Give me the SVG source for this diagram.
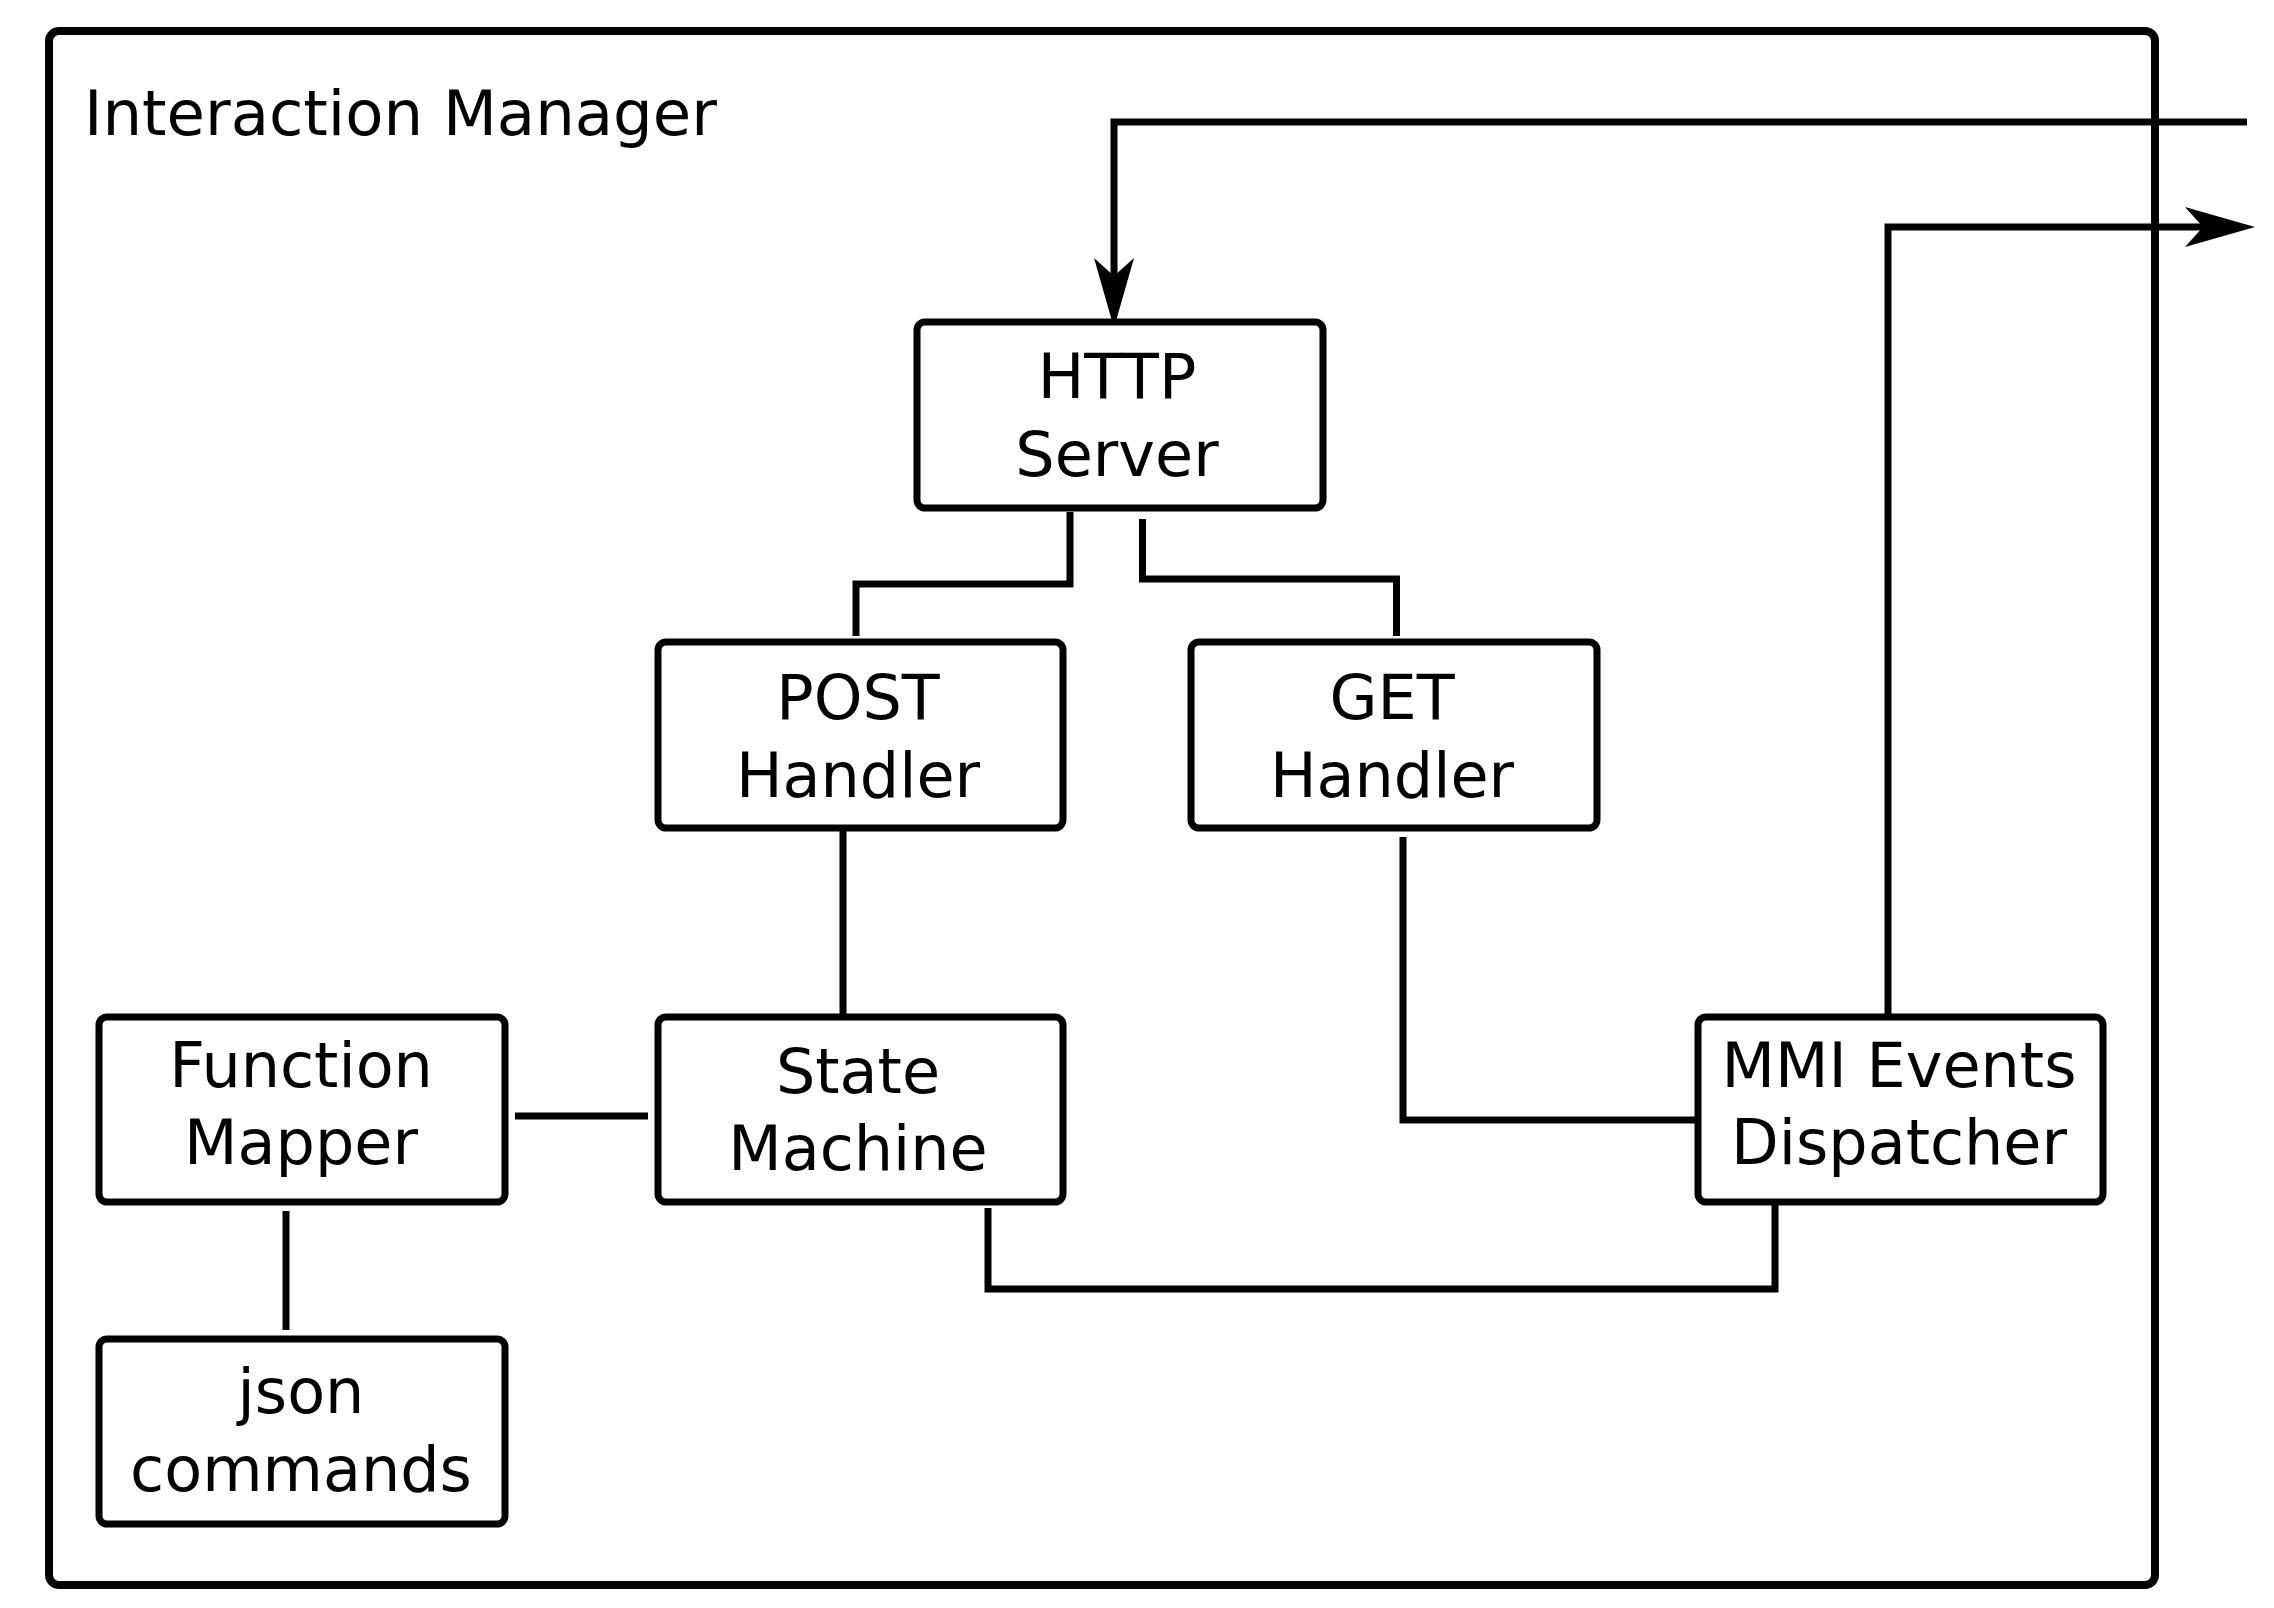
<svg xmlns="http://www.w3.org/2000/svg" width="2274" height="1608" viewBox="0 0 2274 1608">
<style>
.box{fill:#fff;stroke:#000;stroke-width:7}
.frame{fill:none;stroke:#000;stroke-width:8}
.lbl{font-family:"DejaVu Sans",sans-serif;font-size:62px;fill:#000;text-anchor:middle}
.title{font-family:"DejaVu Sans",sans-serif;font-size:62.5px;fill:#000}
.con{fill:none;stroke:#000;stroke-width:7}
</style>
<defs>
<marker id="arr" viewBox="0 0 70 40" refX="18" refY="20" markerWidth="70" markerHeight="40" markerUnits="userSpaceOnUse" orient="auto">
<path d="M0,0 L70,20 L0,40 L18,20 Z" fill="#000"/>
</marker>
</defs>
<rect width="2274" height="1608" fill="#fff"/>
<g id="interaction-manager">
<rect class="frame" x="49" y="31" width="2106" height="1554" rx="10"/>
<text class="title" x="84" y="135">Interaction Manager</text>
</g>
<g id="connectors">
<path class="con" d="M2247,122 H1114 V276" marker-end="url(#arr)"/>
<path class="con" d="M1888,1017 V227 H2203" marker-end="url(#arr)"/>
<path class="con" d="M1070,512 V584 H856 V636"/>
<path class="con" d="M1142.5,519 V579 H1396.5 V636"/>
<path class="con" d="M843,828 V1017"/>
<path class="con" d="M1403,837 V1120 H1696"/>
<path class="con" d="M988,1208 V1289 H1775 V1203"/>
<path class="con" d="M515,1116 H648"/>
<path class="con" d="M286,1211 V1330"/>
</g>
<g id="http-server">
<rect class="box" x="917" y="322" width="406" height="186" rx="8"/>
<text class="lbl" x="1117" y="398">HTTP</text>
<text class="lbl" x="1117" y="476">Server</text>
</g>
<g id="post-handler">
<rect class="box" x="658" y="642" width="405" height="186" rx="8"/>
<text class="lbl" x="858" y="719">POST</text>
<text class="lbl" x="858" y="797">Handler</text>
</g>
<g id="get-handler">
<rect class="box" x="1191" y="642" width="406" height="186" rx="8"/>
<text class="lbl" x="1392" y="719">GET</text>
<text class="lbl" x="1392" y="797">Handler</text>
</g>
<g id="state-machine">
<rect class="box" x="658" y="1017" width="405" height="185" rx="8"/>
<text class="lbl" x="858" y="1093">State</text>
<text class="lbl" x="858" y="1170">Machine</text>
</g>
<g id="function-mapper">
<rect class="box" x="99" y="1017" width="406" height="185" rx="8"/>
<text class="lbl" x="301" y="1087">Function</text>
<text class="lbl" x="301" y="1164">Mapper</text>
</g>
<g id="json-commands">
<rect class="box" x="99" y="1339" width="406" height="185" rx="8"/>
<text class="lbl" x="301" y="1413">json</text>
<text class="lbl" x="301" y="1491">commands</text>
</g>
<g id="mmi-events-dispatcher">
<rect class="box" x="1698" y="1017" width="405" height="185" rx="8"/>
<text class="lbl" x="1899" y="1087">MMI Events</text>
<text class="lbl" x="1899" y="1164">Dispatcher</text>
</g>
</svg>
